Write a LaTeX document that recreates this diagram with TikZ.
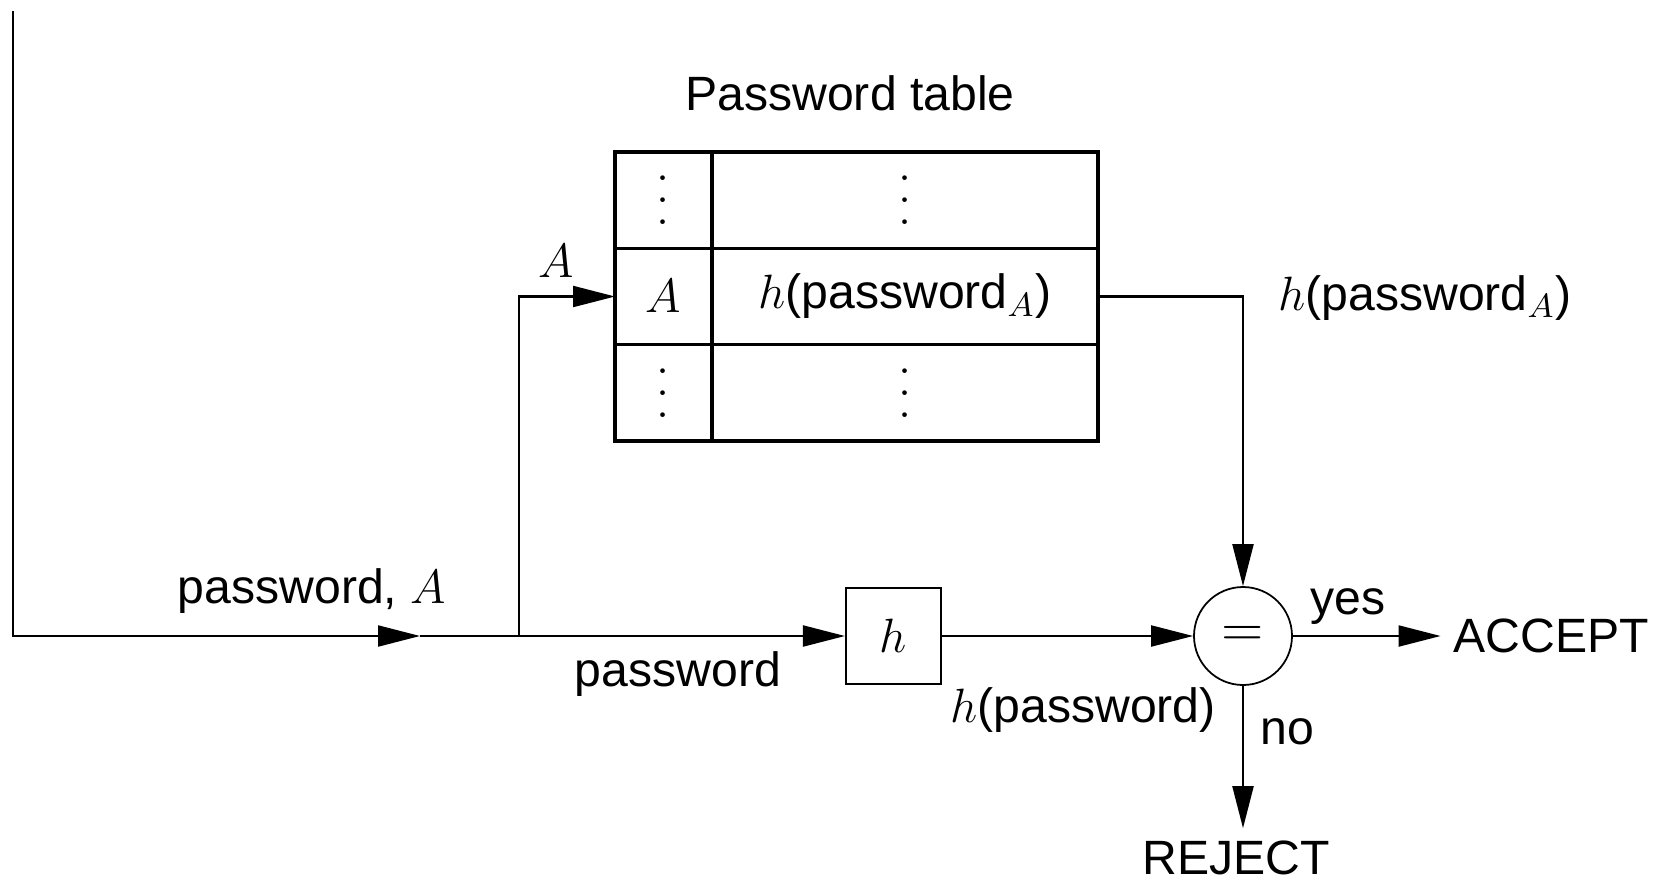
\RequirePackage{fix-cm}
\documentclass[tikz,border=0pt]{standalone}
\usepackage{amsmath}
\usepackage[no-math]{fontspec}
\setmainfont{Liberation Sans}
\usetikzlibrary{arrows.meta}

\newcommand{\tabdots}{\vbox{\baselineskip6.3pt\lineskiplimit0pt\hbox{$.$}\hbox{$.$}\hbox{$.$}}}

\begin{document}
\begin{tikzpicture}[>={Triangle[length=4.2mm,width=2.1mm]},
    font=\fontsize{13.7pt}{16pt}\selectfont, line width=0.6pt]

\useasboundingbox (0,0) rectangle (16.68,-8.83);

\tikzset{
    cell/.style={
        draw, line width=0.9pt, rectangle,
        minimum height=0.963cm, inner sep=0pt, outer sep=0pt
    },
    keycell/.style={cell, minimum width=0.97cm},
    hashcell/.style={cell, minimum width=3.86cm},
    hashbox/.style={
        draw, rectangle, minimum width=0.95cm, minimum height=0.96cm, inner sep=0pt
    },
    compare/.style={
        draw, circle, line width=0.5pt, minimum size=0.98cm, inner sep=0pt,
        font=\fontsize{15.8pt}{18pt}\selectfont
    }
}

% Password table
\node at (8.5,-0.93) (title) {Password table};
\node[keycell]  (K1) at (6.635,-2.0015) {\tabdots};
\node[hashcell] (H1) at (9.05,-2.0015)  {\tabdots};
\node[keycell]  (K2) at (6.635,-2.965)  {$A$};
\node[hashcell] (H2) at (9.05,-2.965)   {$h$(password$_A$)};
\node[keycell]  (K3) at (6.635,-3.928)  {\tabdots};
\node[hashcell] (H3) at (9.05,-3.928)   {\tabdots};

% hash and compare
\node[hashbox] (hash) at (8.935,-6.36) {$h$};
\node[compare] (eq) at (12.43,-6.36) {$=$};
\node (accept) at (15.51,-6.36) {ACCEPT};
\node (reject) at (12.36,-8.58) {REJECT};

% input line
\coordinate (in) at (0.13,-0.11);
\coordinate (mid) at (4.20,-6.36);
\coordinate (split) at (5.19,-6.36);

\draw[->] (in) |- (mid);
\draw (mid) -- (split);
\draw[->] (split) -- (hash);
\draw[->] (split) |- (K2.west);
\draw[->] (H2.east) -| (eq.north);
\draw[->] (hash) -- (eq);
\draw[->] (eq) -- (accept);
\draw[->] (eq.south) -- (eq.south |- reject.north);

% labels
\node (lblin) at (3.12,-5.91) {password, $A$};
\node (lblpw) at (6.78,-6.74) {password};
\node (lblA) at (5.56,-2.61) {$A$};
\node (lblhA) at (14.25,-2.98) {$h$(password$_A$)};
\node (lblh) at (10.83,-7.10) {$h$(password)};
\node (lblyes) at (13.48,-6.07) {yes};
\node (lblno) at (12.87,-7.32) {no};

\end{tikzpicture}
\end{document}
